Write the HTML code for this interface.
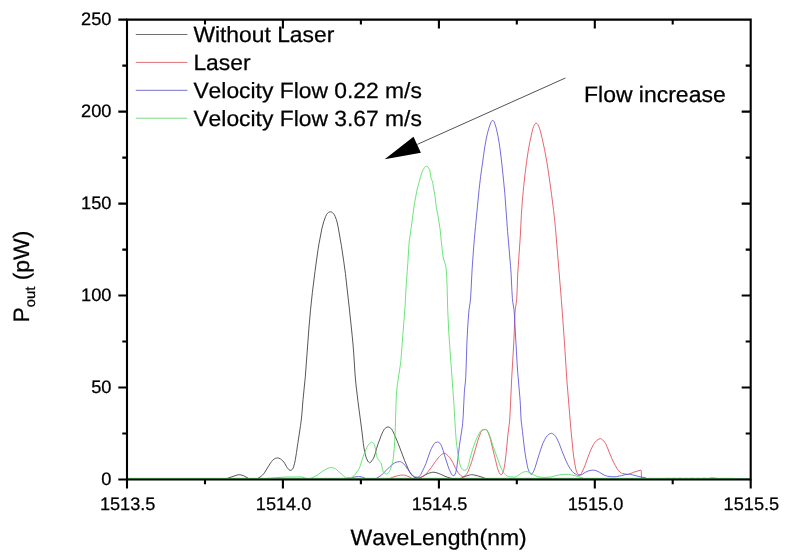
<!DOCTYPE html><html><head><meta charset="utf-8"><title>chart</title><style>
html,body{margin:0;padding:0;background:#fff;}svg{display:block;will-change:transform}text{font-family:"Liberation Sans",sans-serif;fill:#000;stroke:#000;stroke-width:0.25px;font-kerning:none;font-feature-settings:"kern" 0,"liga" 0;text-rendering:geometricPrecision}
</style></head><body>
<svg width="790" height="557" viewBox="0 0 790 557">
<rect width="790" height="557" fill="#fff"/>
<g fill="none" stroke-width="0.85" stroke-linejoin="round">
<path stroke="#444" stroke-width="0.9" d="M127.0 479.1L190.0 479.1L193.0 478.6L196.0 479.2L196.9 479.1L199.0 478.3L200.7 478.9L202.0 479.1L202.7 479.1L205.0 478.5L207.6 479.2L208.0 479.2L211.0 478.6L214.0 479.1L224.0 479.1L226.4 478.7L227.4 478.4L230.0 477.4L237.0 475.1L238.0 474.8L239.2 474.7L240.9 474.9L243.8 475.8L248.3 478.4L249.3 478.8L250.4 478.9L256.5 479.1L257.2 478.9L260.8 476.5L262.4 475.2L263.7 473.8L264.8 472.2L270.7 462.7L271.9 461.2L272.5 460.4L274.1 459.1L274.9 458.6L275.8 458.2L276.8 458.0L277.4 457.9L278.8 458.2L280.6 459.0L281.4 459.6L282.9 461.0L283.8 462.0L284.7 463.3L286.7 466.9L287.2 467.7L288.5 469.3L289.0 469.8L290.3 470.4L291.5 470.0L292.0 469.7L292.6 469.0L293.1 468.1L293.8 466.2L294.6 463.2L295.4 459.3L296.5 452.4L297.8 443.5L300.5 425.7L301.2 420.8L301.8 414.8L303.0 399.8L305.3 376.9L309.0 327.1L310.6 309.2L312.4 292.3L315.0 271.4L318.0 249.6L319.0 243.7L321.8 229.0L322.8 225.1L323.9 221.2L325.6 216.5L326.5 214.7L327.0 213.9L327.7 213.1L328.5 212.4L329.3 212.0L330.4 211.8L331.3 211.9L332.2 212.4L332.9 213.0L333.6 213.8L334.2 214.6L335.1 216.4L336.2 219.2L337.3 223.0L338.3 227.9L341.4 245.7L343.8 261.8L345.4 273.4L349.2 307.2L351.6 330.0L352.9 343.0L353.7 352.9L355.0 373.9L355.9 383.9L358.0 401.7L362.0 432.0L363.3 443.4L363.8 446.8L364.6 451.4L365.3 454.4L365.8 456.3L366.4 458.1L367.2 460.0L367.8 461.0L368.5 462.0L369.2 462.6L369.8 462.8L370.6 462.3L372.6 459.7L373.1 458.9L374.0 457.1L375.0 454.3L376.6 448.4L377.8 444.6L381.3 435.2L382.1 433.4L382.9 431.6L384.0 429.8L384.5 429.0L385.2 428.3L386.0 427.7L386.9 427.2L387.9 426.9L388.8 427.1L389.8 427.5L390.6 428.1L391.3 428.7L392.4 430.4L393.8 433.1L398.1 443.3L404.6 460.5L408.4 469.3L410.0 472.4L411.4 474.5L412.7 476.0L413.5 476.7L414.4 477.2L416.3 477.8L417.3 478.0L418.3 478.0L419.3 477.8L422.0 476.8L423.0 476.3L425.6 474.7L428.3 473.4L431.2 472.5L432.9 472.2L435.1 472.4L437.1 472.9L440.8 474.3L445.0 476.3L447.2 477.1L450.2 478.1L452.1 478.5L453.1 478.6L456.1 478.7L459.1 478.7L461.0 478.3L462.1 477.9L463.0 477.4L463.9 476.9L466.7 475.9L469.6 475.0L470.6 474.8L471.7 474.7L473.6 474.9L477.5 475.8L481.3 476.9L484.2 478.1L486.2 478.6L489.0 478.9L494.1 479.1L750.0 479.1"/>
<path stroke="#e04a56" d="M127.0 479.3L385.0 479.3L387.0 479.2L389.5 478.6L392.8 477.2L397.6 475.7L400.5 475.2L402.5 475.0L404.5 475.2L406.4 475.7L410.1 477.3L412.0 478.5L413.0 478.7L417.0 478.9L417.9 478.9L418.9 478.6L420.0 478.0L423.4 476.0L425.8 474.2L427.2 472.7L428.4 471.2L431.5 467.1L435.5 461.4L439.3 456.6L440.7 455.2L442.3 454.0L443.2 453.5L444.2 453.2L445.0 453.4L445.8 453.8L446.7 454.5L448.2 455.9L449.5 457.4L450.7 459.0L452.8 462.5L455.8 468.8L457.9 472.3L459.2 473.9L460.5 475.3L462.2 476.5L463.1 476.7L464.0 476.4L464.9 475.8L466.4 474.4L467.4 472.8L468.7 470.0L470.5 465.2L471.8 461.5L475.2 449.9L477.9 440.3L478.9 437.4L480.8 432.4L481.3 431.5L481.8 430.7L482.4 430.1L483.2 429.8L484.2 429.5L485.7 429.3L486.1 429.4L486.7 429.9L487.3 430.7L488.3 432.9L489.7 436.7L490.5 439.6L497.2 466.9L498.0 469.8L499.2 472.7L499.8 473.8L500.4 474.5L501.0 474.8L501.8 474.3L502.7 473.0L503.6 470.7L504.2 467.6L504.9 463.7L506.3 451.7L507.9 434.8L509.2 424.9L509.7 420.0L510.3 409.0L511.6 380.0L513.9 340.5L514.7 320.0L515.0 313.1L515.3 309.1L516.4 302.1L516.7 299.2L517.0 293.2L517.7 274.2L520.3 236.3L521.4 214.3L522.3 201.3L523.7 186.4L525.1 173.5L526.6 161.6L528.1 151.7L529.7 142.8L532.0 132.1L533.0 128.2L533.7 126.3L534.6 124.5L535.2 123.7L536.2 123.3L537.1 123.6L537.7 124.3L538.7 126.1L539.7 128.9L540.6 131.8L542.2 138.6L544.5 149.3L546.7 161.1L549.3 177.9L551.6 194.8L553.6 210.6L554.7 220.6L555.5 228.5L561.4 300.3L564.3 340.2L567.0 382.1L570.9 429.0L572.8 448.9L573.7 456.9L574.8 463.8L575.8 469.0L576.4 471.2L577.1 473.0L577.6 473.7L578.1 474.2L579.0 474.6L580.0 474.8L580.7 474.5L581.3 473.7L584.4 467.0L585.5 464.2L587.8 457.6L589.9 452.0L591.1 449.2L593.4 444.6L595.1 442.1L596.3 440.8L598.1 439.5L599.0 439.0L600.0 438.7L600.4 438.7L600.8 438.8L601.7 439.1L602.5 439.8L604.4 441.8L605.7 443.7L606.9 446.4L609.2 452.2L611.9 458.6L613.6 462.3L615.5 465.8L617.5 469.3L618.8 470.8L620.2 472.3L621.0 472.9L621.6 473.2L622.8 473.5L625.8 474.1L627.8 474.2L628.8 474.1L629.7 473.8L633.5 472.3L639.0 470.6L640.9 470.1L641.2 471.2L641.3 472.0L641.5 478.0"/>
<path stroke="#5a50d8" d="M127.0 479.2L341.0 479.2L345.0 479.1L350.0 478.6L351.0 478.4L352.9 477.5L353.9 477.2L356.8 476.6L358.3 476.5L359.8 476.6L362.7 477.2L363.7 477.5L365.6 478.5L366.6 478.7L370.6 478.9L374.6 478.9L375.5 478.7L376.5 478.3L380.9 475.6L381.7 474.9L384.5 472.0L390.2 466.3L391.7 465.0L394.2 463.2L395.0 462.7L396.0 462.3L397.9 461.8L399.8 461.6L400.8 461.8L401.7 462.3L403.3 463.5L404.1 464.2L405.3 465.7L407.0 468.3L409.9 472.3L411.9 474.6L413.3 476.0L414.2 476.6L415.0 477.0L418.0 477.3L418.8 476.9L420.0 475.6L420.8 474.5L424.3 467.3L425.9 463.6L430.2 451.3L431.4 448.6L432.3 446.8L433.9 444.1L434.5 443.3L435.1 442.8L436.1 442.4L437.1 442.1L437.8 442.0L438.1 442.0L439.0 442.5L439.8 443.1L440.4 443.9L440.9 444.8L441.8 446.6L443.1 450.4L445.1 457.1L448.2 466.6L449.2 469.4L450.5 472.1L451.4 474.0L452.0 474.8L452.3 475.1L452.7 475.3L453.9 475.6L454.5 475.2L455.1 474.2L455.8 472.3L456.7 468.5L457.9 458.5L459.4 445.6L460.6 437.7L462.3 426.8L462.6 423.8L463.2 415.9L464.3 392.9L464.6 388.9L465.4 381.9L465.7 377.9L466.1 368.0L466.9 343.0L467.5 331.0L468.1 321.0L469.0 310.0L470.2 302.1L470.6 298.1L471.0 291.2L472.1 269.2L473.1 255.2L474.3 239.3L475.5 226.3L479.1 189.5L480.6 176.6L483.5 155.8L484.8 146.9L486.2 139.0L487.5 133.1L488.3 130.2L488.8 128.3L490.9 122.6L491.3 121.7L491.8 120.9L492.0 120.7L492.7 120.4L493.5 120.8L494.1 121.7L494.8 123.5L496.3 128.3L498.0 136.2L499.2 143.1L500.3 151.0L501.4 159.9L503.0 174.8L504.8 193.2L507.6 231.6L510.5 265.5L511.1 273.5L511.9 290.5L512.4 298.5L512.8 302.4L513.8 308.4L514.3 313.3L517.1 363.3L517.7 372.2L520.1 400.1L520.4 405.1L520.9 416.1L521.2 421.1L522.5 431.7L524.1 445.9L524.9 451.9L525.8 457.8L527.3 465.7L528.0 468.7L529.0 471.4L530.1 473.5L530.8 474.2L531.2 474.4L531.4 474.4L532.0 473.9L533.3 471.9L534.2 470.1L535.2 467.3L539.3 453.8L541.2 448.1L542.9 443.4L544.6 439.8L546.1 437.1L547.4 435.6L548.9 434.3L549.8 433.8L550.8 433.4L551.4 433.3L552.6 433.6L554.3 434.8L555.6 436.4L557.1 438.9L559.2 443.5L562.3 451.9L565.8 460.3L567.9 464.8L569.9 468.2L572.3 471.5L573.7 472.9L576.3 474.5L577.2 474.9L578.2 475.2L579.2 475.3L580.1 475.2L582.1 474.5L582.9 474.0L585.2 472.4L588.2 471.0L591.1 470.3L593.3 470.1L595.0 470.4L596.9 471.0L599.6 472.3L603.0 474.5L605.7 475.7L607.5 476.2L611.6 476.7L614.6 476.8L616.6 476.5L619.6 476.0L621.6 475.6L625.4 474.6L628.4 474.3L630.4 474.3L633.8 475.2L641.1 477.0L645.2 477.7L646.0 478.0L646.5 479.2L646.6 479.2L735.4 479.2L750.0 479.1"/>
<path stroke="#50e060" d="M127.0 478.6L263.0 478.6L268.0 478.4L280.0 477.4L285.0 477.1L290.0 477.0L302.0 476.9L302.9 477.1L305.0 478.2L307.8 478.5L310.0 478.6L310.8 478.5L311.7 478.0L312.7 477.4L315.4 476.1L318.8 474.0L322.9 471.1L326.3 468.9L329.1 467.9L330.1 467.6L331.4 467.5L333.0 467.8L334.9 468.5L335.7 468.9L336.5 469.5L338.7 471.7L342.5 474.9L344.1 476.4L344.9 477.1L345.8 477.5L346.5 477.7L350.0 477.7L350.7 477.6L351.6 477.2L352.5 476.7L354.2 475.5L355.5 474.0L358.4 469.9L359.4 468.1L360.1 466.3L363.1 456.7L364.1 453.9L366.9 447.4L367.9 445.7L369.1 444.1L370.6 442.8L371.5 442.2L371.8 442.2L372.4 442.4L373.3 443.0L373.9 443.7L374.4 444.7L374.9 446.5L376.6 455.5L377.1 457.3L377.5 458.3L378.6 460.0L379.2 460.8L380.6 462.3L380.9 462.7L381.3 464.0L382.7 470.0L383.1 471.3L383.4 471.8L384.0 472.6L384.8 473.2L385.7 473.8L386.3 474.0L386.6 474.0L387.5 473.5L388.3 472.9L389.0 472.2L389.9 470.4L391.7 465.7L392.5 462.8L393.2 458.9L394.2 448.9L394.7 441.9L395.1 433.0L395.5 422.0L396.0 403.0L396.4 395.0L397.2 386.0L400.3 365.2L400.8 361.3L401.3 355.3L402.8 335.3L405.0 307.4L406.3 283.5L407.8 263.5L408.7 248.5L409.1 242.6L412.0 221.8L413.8 207.9L415.1 200.0L417.2 189.2L417.7 187.2L419.2 181.9L420.5 176.6L421.9 172.5L423.3 169.4L424.5 167.5L425.2 166.7L426.0 166.2L426.3 166.2L427.2 166.4L427.8 166.9L429.5 169.4L430.0 171.3L431.1 178.3L431.3 179.2L432.3 180.9L432.7 181.9L433.3 186.5L434.1 190.8L434.9 195.7L436.5 208.6L437.8 214.5L440.1 229.3L442.1 249.2L443.0 256.1L443.6 259.1L445.5 264.8L446.0 267.7L446.5 273.7L446.8 278.7L447.2 288.7L447.7 309.7L448.8 332.7L449.7 345.6L453.8 402.5L455.4 429.4L455.9 436.4L456.3 441.4L456.9 446.4L458.3 456.3L459.0 460.2L459.6 463.1L460.5 466.1L461.3 468.0L462.0 469.0L462.5 469.4L463.4 470.0L464.1 470.2L465.4 470.0L466.3 469.7L466.9 469.2L467.3 468.4L467.7 467.3L468.7 464.2L470.3 457.4L472.5 449.7L475.1 442.1L477.1 437.5L480.0 431.9L480.6 431.0L481.3 430.3L482.2 429.9L484.0 429.7L485.7 429.6L485.9 429.6L486.6 430.0L487.3 430.8L488.9 433.8L489.7 435.5L490.7 438.3L493.3 446.8L500.2 465.9L501.5 469.0L502.7 471.3L503.3 472.2L504.4 473.6L506.0 475.2L506.8 475.8L507.7 476.3L508.5 476.6L510.5 476.9L513.6 477.1L514.5 477.1L515.5 476.9L517.3 475.9L519.9 474.2L521.5 473.0L522.4 472.6L524.2 471.8L525.2 471.6L526.0 471.5L527.2 471.7L530.0 472.7L533.5 474.7L537.1 476.5L539.0 476.9L542.0 477.3L544.0 477.4L547.0 477.3L551.0 477.0L555.8 475.6L559.8 474.8L561.7 474.5L567.0 474.3L568.7 474.4L571.7 474.9L579.4 476.9L581.4 477.5L583.3 478.3L584.3 478.6L585.0 478.6L665.0 478.8L668.0 478.2L670.2 478.7L671.0 478.8L672.2 478.6L673.2 478.2L674.0 478.1L676.2 478.6L677.0 478.7L680.0 478.1L681.1 478.3L682.1 478.7L683.0 478.8L684.1 478.6L685.1 478.3L686.0 478.2L688.1 478.6L689.1 478.7L692.0 478.1L693.0 478.3L694.0 478.6L695.0 478.7L698.0 478.2L699.0 478.4L700.0 478.7L701.0 478.8L702.0 478.6L703.0 478.3L704.0 478.1L707.0 478.7L707.9 478.6L709.9 478.0L713.0 477.7L713.9 477.8L717.9 478.6L718.8 478.7L722.0 478.4L725.0 478.8L750.0 478.8"/>
</g>
<g stroke="#000" stroke-width="2.1" fill="none" stroke-linecap="butt">
<path d="M126.0 19.6 H751.8 M127.0 19.6 V480.5 M750.7 19.6 V480.5"/><path stroke-width="2" d="M127.0 479.5 H750.7"/>
<path d="M127.0 479.5 V488.5M282.9 479.5 V488.5M282.9 19.6 V28.6M438.9 479.5 V488.5M438.9 19.6 V28.6M594.8 479.5 V488.5M594.8 19.6 V28.6M750.7 479.5 V488.5M205.0 479.5 V484.3M205.0 19.6 V24.6M360.9 479.5 V484.3M360.9 19.6 V24.6M516.8 479.5 V484.3M516.8 19.6 V24.6M672.7 479.5 V484.3M672.7 19.6 V24.6M127.0 479.5 H118.3M127.0 387.5 H118.3M750.7 387.5 H741.7M127.0 295.5 H118.3M750.7 295.5 H741.7M127.0 203.6 H118.3M750.7 203.6 H741.7M127.0 111.6 H118.3M750.7 111.6 H741.7M127.0 19.6 H118.3M127.0 433.5 H122.3M750.7 433.5 H745.7M127.0 341.5 H122.3M750.7 341.5 H745.7M127.0 249.6 H122.3M750.7 249.6 H745.7M127.0 157.6 H122.3M750.7 157.6 H745.7M127.0 65.6 H122.3M750.7 65.6 H745.7"/>
</g>
<path d="M128.0 478.4 H735.0" stroke="#2c7434" stroke-width="0.9" fill="none"/>
<text x="111.5" y="485.0" font-size="18.0" text-anchor="end" transform="translate(111.5 0) scale(1.015 1) translate(-111.5 0)">0</text>
<text x="111.5" y="393.0" font-size="18.0" text-anchor="end" transform="translate(111.5 0) scale(1.015 1) translate(-111.5 0)">50</text>
<text x="111.5" y="301.0" font-size="18.0" text-anchor="end" transform="translate(111.5 0) scale(1.015 1) translate(-111.5 0)">100</text>
<text x="111.5" y="209.1" font-size="18.0" text-anchor="end" transform="translate(111.5 0) scale(1.015 1) translate(-111.5 0)">150</text>
<text x="111.5" y="117.1" font-size="18.0" text-anchor="end" transform="translate(111.5 0) scale(1.015 1) translate(-111.5 0)">200</text>
<text x="111.5" y="25.1" font-size="18.0" text-anchor="end" transform="translate(111.5 0) scale(1.015 1) translate(-111.5 0)">250</text>
<text x="127.7" y="509.6" font-size="18.0" text-anchor="middle" transform="translate(127.7 0) scale(1.009 1) translate(-127.7 0)">1513.5</text>
<text x="283.6" y="509.6" font-size="18.0" text-anchor="middle" transform="translate(283.6 0) scale(1.009 1) translate(-283.6 0)">1514.0</text>
<text x="439.6" y="509.6" font-size="18.0" text-anchor="middle" transform="translate(439.6 0) scale(1.009 1) translate(-439.6 0)">1514.5</text>
<text x="595.5" y="509.6" font-size="18.0" text-anchor="middle" transform="translate(595.5 0) scale(1.009 1) translate(-595.5 0)">1515.0</text>
<text x="751.4" y="509.6" font-size="18.0" text-anchor="middle" transform="translate(751.4 0) scale(1.009 1) translate(-751.4 0)">1515.5</text>
<path d="M135.8 34.5 H187.4" stroke="#555" stroke-width="0.85" fill="none"/>
<text x="193.4" y="41.9" font-size="22.0" transform="translate(193.4 0) scale(1.038 1) translate(-193.4 0)">Without Laser</text>
<path d="M135.8 62.4 H187.4" stroke="#d85a60" stroke-width="0.85" fill="none"/>
<text x="193.4" y="69.8" font-size="22.0" transform="translate(193.4 0) scale(1.038 1) translate(-193.4 0)">Laser</text>
<path d="M135.8 90.3 H187.4" stroke="#5c58c8" stroke-width="0.85" fill="none"/>
<text x="193.4" y="97.6" font-size="22.0" transform="translate(193.4 0) scale(1.038 1) translate(-193.4 0)">Velocity Flow 0.22 m/s</text>
<path d="M135.8 118.2 H187.4" stroke="#60d470" stroke-width="0.85" fill="none"/>
<text x="193.4" y="125.5" font-size="22.0" transform="translate(193.4 0) scale(1.038 1) translate(-193.4 0)">Velocity Flow 3.67 m/s</text>
<text x="584" y="101.6" font-size="22.3" transform="translate(584 0) scale(1.030 1) translate(-584 0)">Flow increase</text>
<path d="M565.4 78.0 L417.3 144.4" stroke="#333" stroke-width="0.85" fill="none"/>
<path d="M384.7 159.3 L413.5 136.7 L420.9 152.7 Z" fill="#000"/>
<text x="438.7" y="545.2" font-size="22.3" text-anchor="middle" transform="translate(438.7 0) scale(1.030 1) translate(-438.7 0)">WaveLength(nm)</text>
<g transform="translate(29.1 322.5) rotate(-90) scale(1.030 1)"><text x="0" y="0" font-size="22.3">P<tspan font-size="14.3" dy="5.6">out</tspan><tspan dy="-5.6"> (pW)</tspan></text></g>
</svg></body></html>
